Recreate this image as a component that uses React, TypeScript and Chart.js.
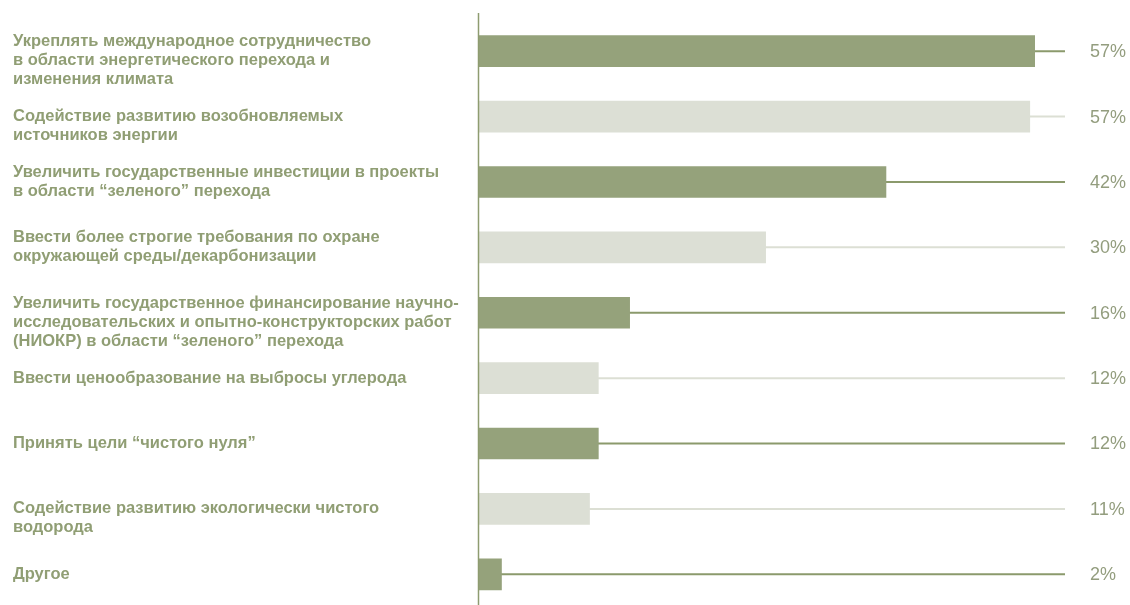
import React, { useEffect, useRef } from "react";
import { Chart, registerables } from "chart.js";

Chart.register(...registerables);

const categories: (string | string[])[] = [
  ["", "Укреплять международное сотрудничество", "в области энергетического перехода и", "изменения климата"],
  ["", "Содействие развитию возобновляемых", "источников энергии"],
  ["Увеличить государственные инвестиции в проекты", "в области “зеленого” перехода"],
  ["Ввести более строгие требования по охране", "окружающей среды/декарбонизации"],
  ["", "Увеличить государственное финансирование научно-", "исследовательских и опытно-конструкторских работ", "(НИОКР) в области “зеленого” перехода"],
  "Ввести ценообразование на выбросы углерода",
  "Принять цели “чистого нуля”",
  ["", "Содействие развитию экологически чистого", "водорода"],
  "Другое",
];

const values: number[] = [56.9, 56.4, 41.7, 29.4, 15.5, 12.3, 12.3, 11.4, 2.4];

const valueLabels: string[] = ["57%", "57%", "42%", "30%", "16%", "12%", "12%", "11%", "2%"];

const axisMax = 60;

const DARK = "#95a27b";
const DARK_LINE = "#8b9a6c";
const LIGHT = "#dcdfd5";
const LIGHT_LINE = "#dcdfd4";
const TEXT = "#909e74";
const PCT_TEXT = "#939d7e";

export default function App() {
  const ref = useRef<HTMLCanvasElement | null>(null);

  useEffect(() => {
    if (!ref.current) return;

    const trackPlugin = {
      id: "tracks",
      beforeDatasetsDraw(chart: any) {
        const { ctx, chartArea } = chart;
        const meta = chart.getDatasetMeta(0);
        const xs = chart.scales.x;
        ctx.save();
        meta.data.forEach((bar: any, i: number) => {
          ctx.beginPath();
          ctx.strokeStyle = i % 2 === 0 ? DARK_LINE : LIGHT_LINE;
          ctx.lineWidth = 2;
          ctx.moveTo(xs.getPixelForValue(values[i]) - 4, bar.y);
          ctx.lineTo(chartArea.right, bar.y);
          ctx.stroke();
        });
        ctx.restore();
      },
      afterDatasetsDraw(chart: any) {
        const { ctx, chartArea } = chart;
        const meta = chart.getDatasetMeta(0);
        ctx.save();
        // vertical axis line
        ctx.beginPath();
        ctx.strokeStyle = "#8e9c70";
        ctx.lineWidth = 1.5;
        ctx.moveTo(chartArea.left + 0.5, 13);
        ctx.lineTo(chartArea.left + 0.5, chart.height);
        ctx.stroke();
        // value labels
        ctx.fillStyle = PCT_TEXT;
        ctx.font = "18px 'Liberation Sans', Arial, sans-serif";
        ctx.textAlign = "left";
        ctx.textBaseline = "middle";
        meta.data.forEach((bar: any, i: number) => {
          ctx.fillText(valueLabels[i], chartArea.right + 25, bar.y + 1);
        });
        ctx.restore();
      },
    };

    const chart = new Chart(ref.current, {
      type: "bar",
      data: {
        labels: categories,
        datasets: [
          {
            data: values,
            backgroundColor: values.map((_, i) => (i % 2 === 0 ? DARK : LIGHT)),
            borderWidth: 0,
            barThickness: 31,
          },
        ],
      },
      options: {
        indexAxis: "y",
        animation: false,
        responsive: true,
        maintainAspectRatio: false,
        layout: { padding: { left: 13, right: 65, top: 18.5, bottom: 5 } },
        plugins: {
          legend: { display: false },
          tooltip: { enabled: false },
          title: { display: false },
        },
        scales: {
          x: {
            display: false,
            min: 0,
            max: axisMax,
          },
          y: {
            position: "left",
            grid: { display: false },
            border: { display: false },
            afterFit(scale: any) {
              scale.width = 465;
              scale.paddingTop = 0;
              scale.paddingBottom = 0;
            },
            ticks: {
              crossAlign: "far",
              color: TEXT,
              padding: 0,
              autoSkip: false,
              font: {
                family: "'Liberation Sans', Arial, sans-serif",
                weight: "bold",
                size: 16.5,
                lineHeight: "19px",
              },
            },
          },
        },
      },
      plugins: [trackPlugin],
    } as any);

    return () => chart.destroy();
  }, []);

  return (
    <div
      style={{
        position: "fixed",
        left: 0,
        top: 0,
        width: 1130,
        height: 605,
        overflow: "hidden",
        background: "#ffffff",
      }}
    >
      <div style={{ position: "relative", width: 1130, height: 612 }}>
        <canvas ref={ref} />
      </div>
    </div>
  );
}
